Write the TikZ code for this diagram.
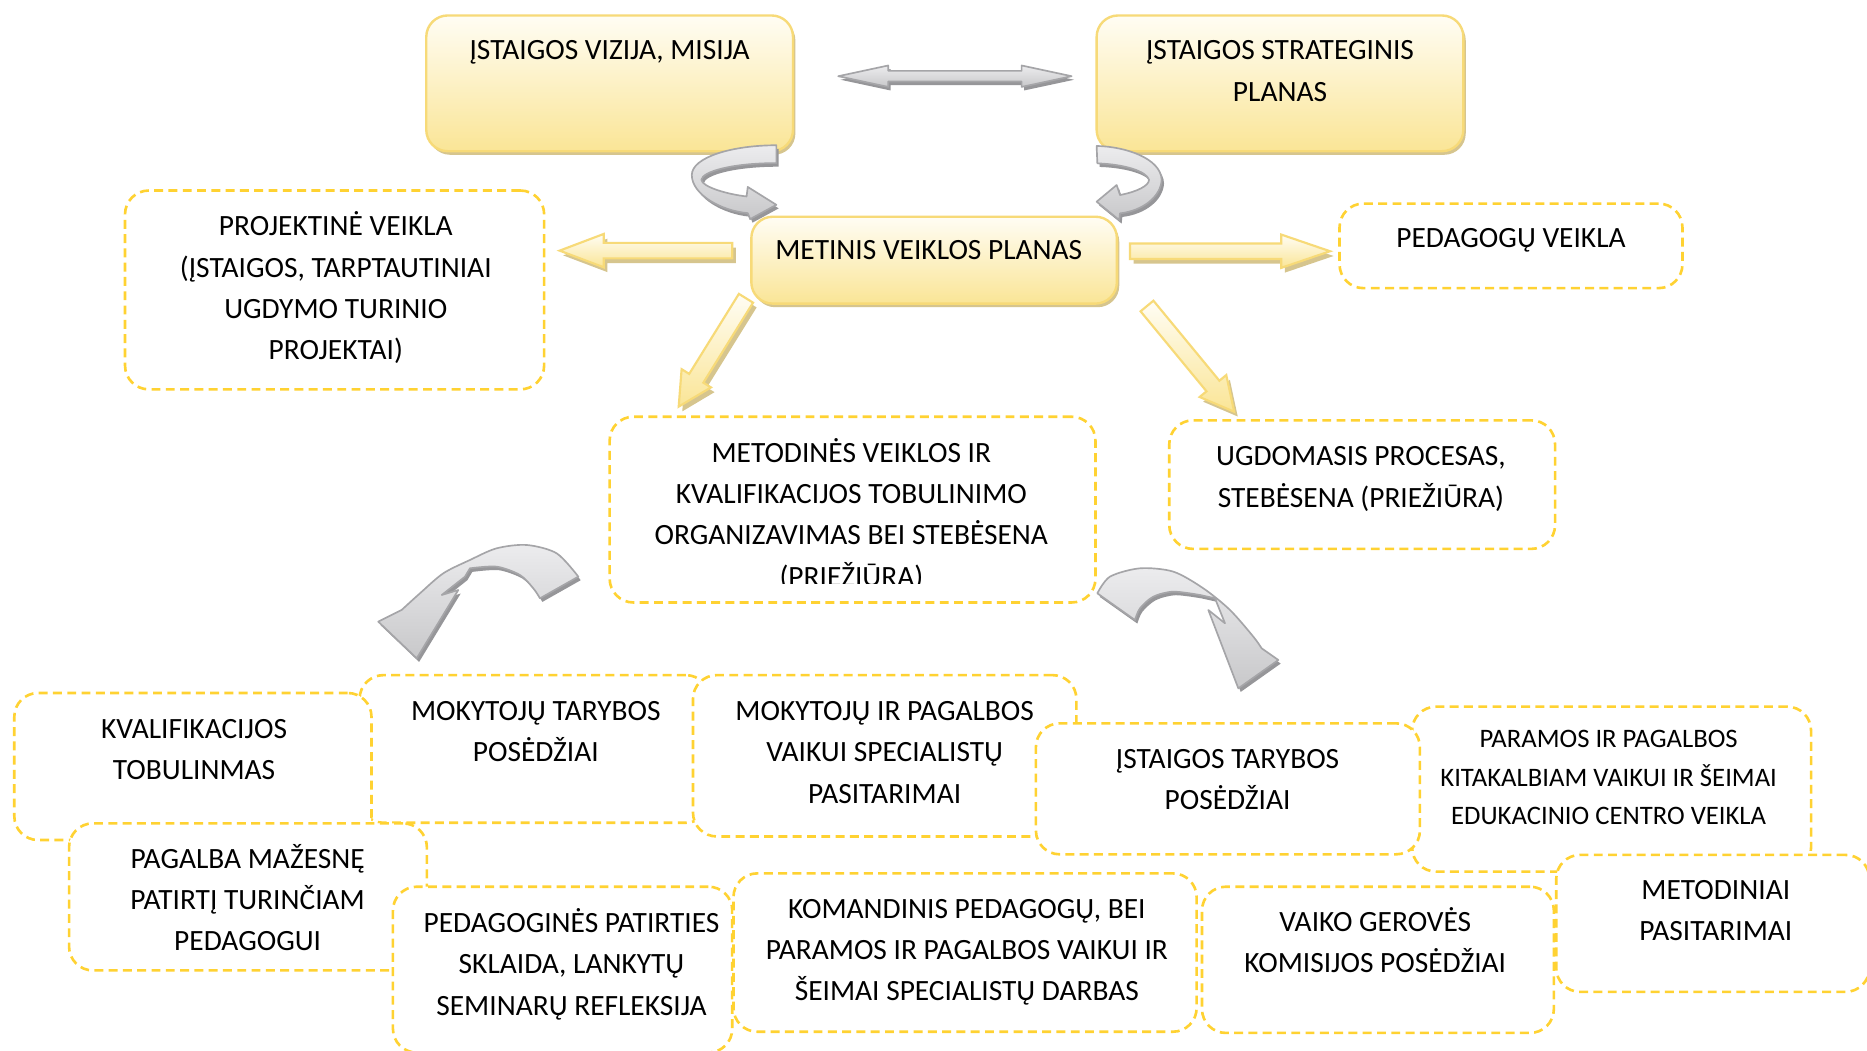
\documentclass[tikz,border=0pt]{standalone}
\usepackage{fontspec}
\setmainfont{Carlito}
\usetikzlibrary{shadows}
\definecolor{dashY}{RGB}{255,210,50}
\definecolor{boxTop}{RGB}{255,253,244}
\definecolor{boxBot}{RGB}{250,229,150}
\definecolor{boxBorder}{RGB}{247,218,120}
\definecolor{boxShadow}{RGB}{214,197,142}
\definecolor{grayMid}{RGB}{200,200,202}
\definecolor{grayLight}{RGB}{236,236,238}
\definecolor{grayLine}{RGB}{165,165,168}
\definecolor{grayShadow}{RGB}{150,150,153}
\tikzset{
  dbox/.style={draw=dashY, line width=2.2pt, dash pattern=on 7.5pt off 4.5pt, rounded corners=20pt, fill=white, inner sep=0pt},
  sbox/.style={draw=boxBorder, line width=2pt, rounded corners=18pt, top color=boxTop, bottom color=boxBot, inner sep=0pt,
     drop shadow={shadow xshift=2pt, shadow yshift=-3pt, fill=boxShadow, opacity=1}},
  txt/.style={align=center, inner sep=0pt, anchor=north, font=\fontsize{24.7}{34.7}\selectfont},
  txts/.style={align=center, inner sep=0pt, anchor=north, font=\fontsize{22.4}{32}\selectfont},
  yarrow/.style={draw=boxBorder, line width=1.8pt, top color=boxTop, bottom color=boxBot, line join=miter},
  yshadow/.style={fill=boxShadow, shift={(3,4)}},
  garrow/.style={draw=grayLine, line width=1.4pt, top color=grayLight, bottom color=grayMid, line join=round},
  gshadow/.style={fill=grayShadow, shift={(2,3)}},
}
\newcommand\BX[6]{\node[#1, minimum width={#5-#3}, minimum height={#6-#4}] (#2) at ({(#3+#5)/2},{(#4+#6)/2}) {};}
\begin{document}
\begin{tikzpicture}[x=1pt,y=-1pt]
\useasboundingbox (0,0) rectangle (1568,882);
\fill[white] (0,0) rectangle (1568,882);

% --- solid top boxes ---
\BX{sbox}{viz}{358}{13}{666}{127}
\node[txt] (vizT) at (512,25.7) {\strut ĮSTAIGOS VIZIJA, MISIJA};
\BX{sbox}{str}{921}{13}{1229}{127}
\node[txt] (strT) at (1075,25.7) {\strut ĮSTAIGOS STRATEGINIS\\PLANAS};
\BX{sbox}{met}{631}{182}{938}{255}
\node[txt] (metT) at (780,193.7) {\strut METINIS VEIKLOS PLANAS};

% --- dashed upper boxes ---
\BX{dbox}{prj}{105}{160}{457}{327}
\node[txt] (prjT) at (282,173.7) {\strut PROJEKTINĖ VEIKLA\\(ĮSTAIGOS, TARPTAUTINIAI\\UGDYMO TURINIO\\PROJEKTAI)};
\BX{dbox}{ped}{1125}{171}{1413}{242}
\node[txt] (pedT) at (1269,183.7) {\strut PEDAGOGŲ VEIKLA};
\BX{dbox}{mtd}{512}{350}{920}{506}
\begin{scope}
\clip (500,340) rectangle (930,490);
\node[txt] (mtdT) at (715,363.7) {\strut METODINĖS VEIKLOS IR\\KVALIFIKACIJOS TOBULINIMO\\ORGANIZAVIMAS BEI STEBĖSENA\\(PRIEŽIŪRA)};
\end{scope}
\BX{dbox}{ugd}{982}{353}{1306}{461}
\node[txt] (ugdT) at (1143,366.7) {\strut UGDOMASIS PROCESAS,\\STEBĖSENA (PRIEŽIŪRA)};

% --- double gray arrow ---
\fill[gshadow] (704,64) -- (746,55) -- (746,59.5) -- (858,59.5) -- (858,55) -- (900,64) -- (858,73) -- (858,68.5) -- (746,68.5) -- (746,73) -- cycle;
\filldraw[garrow] (704,64) -- (746,55) -- (746,59.5) -- (858,59.5) -- (858,55) -- (900,64) -- (858,73) -- (858,68.5) -- (746,68.5) -- (746,73) -- cycle;

% --- small curved gray arrows ---
\fill[gshadow] (652,122) .. controls (615,122) and (581,132) .. (581,147) .. controls (581,163) and (605,177) .. (628,179) -- (630,184) -- (652,172) -- (628,157) -- (627,165) .. controls (610,163) and (590,157) .. (589,151) .. controls (590,144) and (615,137) .. (652,137) -- cycle;
\filldraw[garrow] (652,122) .. controls (615,122) and (581,132) .. (581,147) .. controls (581,163) and (605,177) .. (628,179) -- (630,184) -- (652,172) -- (628,157) -- (627,165) .. controls (610,163) and (590,157) .. (589,151) .. controls (590,144) and (615,137) .. (652,137) -- cycle;
\fill[gshadow] (921,122.6) .. controls (945,123) and (975,133) .. (975.6,151) .. controls (975,165) and (960,177) .. (940.6,179.2) -- (940,184.8) -- (921,169.4) -- (937.8,155.4) -- (940.6,163.8) .. controls (955,161) and (965,156) .. (965,151) .. controls (963,144) and (945,138) .. (921.6,137.2) -- cycle;
\filldraw[garrow] (921,122.6) .. controls (945,123) and (975,133) .. (975.6,151) .. controls (975,165) and (960,177) .. (940.6,179.2) -- (940,184.8) -- (921,169.4) -- (937.8,155.4) -- (940.6,163.8) .. controls (955,161) and (965,156) .. (965,151) .. controls (963,144) and (945,138) .. (921.6,137.2) -- cycle;

% --- yellow block arrows ---
\fill[yshadow] (615,204) -- (507,204) -- (507,196.5) -- (470,210.5) -- (507,224.5) -- (507,217) -- (615,217) -- cycle;
\filldraw[yarrow] (615,204) -- (507,204) -- (507,196.5) -- (470,210.5) -- (507,224.5) -- (507,217) -- (615,217) -- cycle;
\fill[yshadow] (949,204.5) -- (1076,204.5) -- (1076,197) -- (1117,211) -- (1076,225) -- (1076,217.5) -- (949,217.5) -- cycle;
\filldraw[yarrow] (949,204.5) -- (1076,204.5) -- (1076,197) -- (1117,211) -- (1076,225) -- (1076,217.5) -- (949,217.5) -- cycle;
\fill[yshadow] (620.55,246.81) -- (632.45,254.19) -- (590.72,321.40) -- (597.09,325.36) -- (570,341.5) -- (572.45,310.06) -- (578.82,314.02) -- cycle;
\filldraw[yarrow] (620.55,246.81) -- (632.45,254.19) -- (590.72,321.40) -- (597.09,325.36) -- (570,341.5) -- (572.45,310.06) -- (578.82,314.02) -- cycle;
\fill[yshadow] (957.90,261.45) -- (968.70,252.55) -- (1024.09,319.75) -- (1029.88,314.98) -- (1036.5,345.8) -- (1007.50,333.42) -- (1013.29,328.65) -- cycle;
\filldraw[yarrow] (957.90,261.45) -- (968.70,252.55) -- (1024.09,319.75) -- (1029.88,314.98) -- (1036.5,345.8) -- (1007.50,333.42) -- (1013.29,328.65) -- cycle;

% --- big curved gray arrows ---
\fill[gshadow] plot[smooth] coordinates {(485.7,484.3) (467.5,464.7) (442.3,457.7) (417.1,460.5) (394.7,470.3) (372.3,481.5) (352.7,498.3) (337.3,512.3)} -- (317.7,522.1) -- (350,552.9) -- (384.9,495.5) -- (371,499.7) -- (390.5,484.3) -- plot[smooth] coordinates {(394.7,477.3) (417.1,475.9) (436.7,482.9) (447.9,494.1) (453.5,502.5)} -- cycle;
\filldraw[garrow] plot[smooth] coordinates {(485.7,484.3) (467.5,464.7) (442.3,457.7) (417.1,460.5) (394.7,470.3) (372.3,481.5) (352.7,498.3) (337.3,512.3)} -- (317.7,522.1) -- (350,552.9) -- (384.9,495.5) -- (371,499.7) -- (390.5,484.3) -- plot[smooth] coordinates {(394.7,477.3) (417.1,475.9) (436.7,482.9) (447.9,494.1) (453.5,502.5)} -- cycle;
\fill[gshadow] plot[smooth] coordinates {(921.6,498.3) (932.2,484.3) (957.4,477.3) (985.4,480.1) (1010.6,494.1) (1033,512.3) (1052.6,534.7) (1059.6,544.5)} -- (1073.6,554.3) -- (1040,578.1) -- (1014.8,512.3) -- (1028.8,523.5) -- (1020.4,502.5) -- plot[smooth] coordinates {(1007.8,499.7) (985.4,496.9) (968.6,501.1) (957.4,510.9) (953.2,520.7)} -- cycle;
\filldraw[garrow] plot[smooth] coordinates {(921.6,498.3) (932.2,484.3) (957.4,477.3) (985.4,480.1) (1010.6,494.1) (1033,512.3) (1052.6,534.7) (1059.6,544.5)} -- (1073.6,554.3) -- (1040,578.1) -- (1014.8,512.3) -- (1028.8,523.5) -- (1020.4,502.5) -- plot[smooth] coordinates {(1007.8,499.7) (985.4,496.9) (968.6,501.1) (957.4,510.9) (953.2,520.7)} -- cycle;

% --- bottom cluster ---
\BX{dbox}{mta}{302}{567}{596}{691}
\node[txt] (mtaT) at (450,580.7) {\strut MOKYTOJŲ TARYBOS\\POSĖDŽIAI};
\BX{dbox}{kva}{12}{582}{312}{705.5}
\node[txt] (kvaT) at (163,595.7) {\strut KVALIFIKACIJOS\\TOBULINMAS};
\BX{dbox}{mir}{582}{567}{904}{702.5}
\node[txt] (mirT) at (743,580.7) {\strut MOKYTOJŲ IR PAGALBOS\\VAIKUI SPECIALISTŲ\\PASITARIMAI};
\BX{dbox}{par}{1186}{593.5}{1521}{732}
\node[txts] (parT) at (1351,605.6) {\strut PARAMOS IR PAGALBOS\\KITAKALBIAM VAIKUI IR ŠEIMAI\\EDUKACINIO CENTRO VEIKLA};
\BX{dbox}{ist}{870}{607.5}{1192.5}{717.5}
\node[txt] (istT) at (1031,620.7) {\strut ĮSTAIGOS TARYBOS\\POSĖDŽIAI};
\BX{dbox}{pag}{58}{691.5}{358.5}{815}
\node[txt] (pagT) at (208,704.7) {\strut PAGALBA MAŽESNĘ\\PATIRTĮ TURINČIAM\\PEDAGOGUI};
\BX{dbox}{ppa}{330}{744.7}{615}{884}
\node[txt] (ppaT) at (480,758.7) {\strut PEDAGOGINĖS PATIRTIES\\SKLAIDA, LANKYTŲ\\SEMINARŲ REFLEKSIJA};
\BX{dbox}{kom}{616}{733.5}{1005}{866.5}
\node[txt] (komT) at (812,746.7) {\strut KOMANDINIS PEDAGOGŲ, BEI\\PARAMOS IR PAGALBOS VAIKUI IR\\ŠEIMAI SPECIALISTŲ DARBAS};
\BX{dbox}{vai}{1009.5}{744.7}{1305}{867.5}
\node[txt] (vaiT) at (1155,757.7) {\strut VAIKO GEROVĖS\\KOMISIJOS POSĖDŽIAI};
\BX{dbox}{mdp}{1307}{718}{1570}{833}
\node[txt] (mdpT) at (1441,730.7) {\strut METODINIAI\\PASITARIMAI};
\end{tikzpicture}
\end{document}
